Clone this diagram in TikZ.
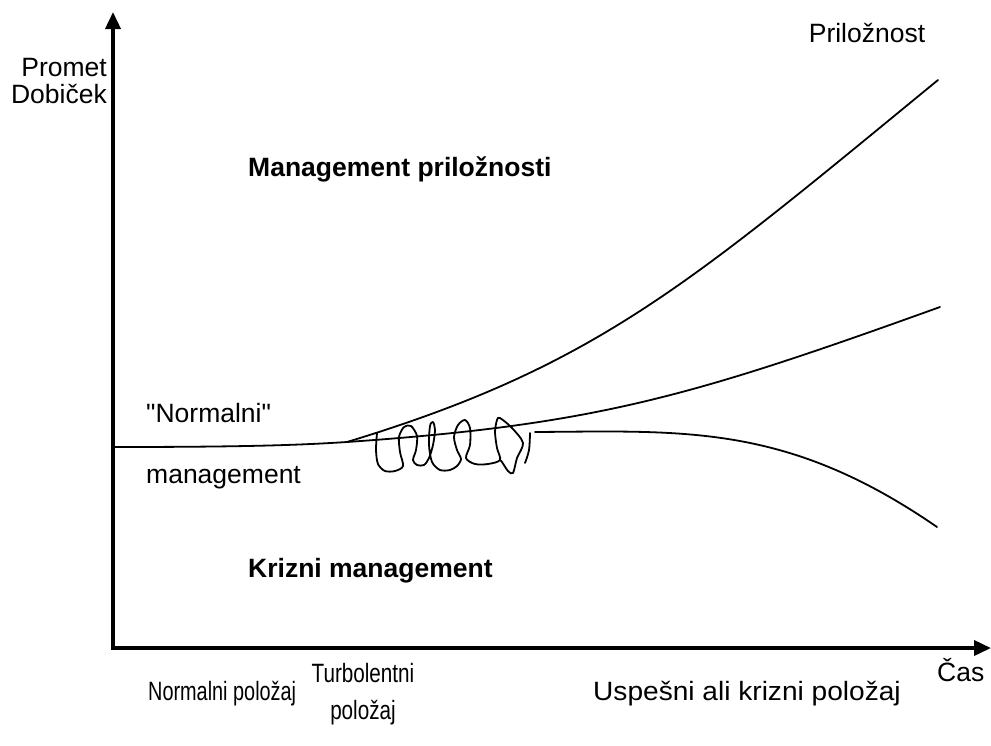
\documentclass[tikz,border=0pt]{standalone}
\usepackage{fontspec}
\setmainfont{Liberation Sans}
% plain font without the TeX text mapping, for straight quotes
\font\plainq="Liberation Sans" at 26.5pt
\usetikzlibrary{arrows.meta}
\begin{document}
\begin{tikzpicture}[x=1pt,y=-1pt,
  axis/.style={line width=3.6pt,line join=miter,
    {Triangle[length=17pt,width=15pt]}-{Triangle[length=17pt,width=15pt]}},
  curve/.style={line width=1.8pt,line cap=round,line join=round},
  lbl/.style={font=\fontsize{26.5}{30}\selectfont,inner sep=0pt},
  blbl/.style={lbl,font=\fontsize{26.5}{30}\selectfont\bfseries},
  narrow/.style={lbl,xscale=#1}]
\useasboundingbox (0,0) rectangle (991,745);

% axes
\coordinate (O) at (113,648);
\coordinate (ytip) at (113,12);
\coordinate (xtip) at (991,648);
\draw[axis] (ytip) -- (O) -- (xtip);

% normal course continuing into the middle scenario
\coordinate (start) at (113,447);
\coordinate (fork) at (347,442);
\coordinate (midend) at (940,307);
\draw[curve] (start) .. controls (250,447) and (300,445) .. (fork)
  .. controls (597,424.5) and (690,397) .. (midend);

% opportunity branch
\coordinate (oppend) at (938,80);
\draw[curve] (fork) .. controls (597,366) and (688,285) .. (oppend);

% crisis branch
\coordinate (crisstart) at (535,432);
\coordinate (crisend) at (937,527);
\draw[curve] (crisstart) .. controls (685,431) and (787,423.5) .. (crisend);

% turbulent scribble
\draw[curve] plot[smooth,tension=0.5] coordinates {
  (377,433) (376,450) (378,464) (385,471) (395,471) (403,466)
  (400,452) (399,437) (404,427) (411,426) (417,436) (416,450)
  (413,460) (417,465) (424,465) (429,458) (433,445) (435,430)
  (433,422) (430,426) (429,445) (432,462) (440,470) (450,470)
  (457,466) (461,459) (457,450) (454,437) (458,425) (465,420)
  (470,428) (470,445) (466,458) (475,464) (488,464) (500,460)
  (497,448) (495,432) (497,420) (500,418) (512,428) (523,443)
  (517,458) (513,473) (508,471) (502,462) (500,460)};
\draw[curve] plot[smooth,tension=0.6] coordinates {
  (530,433) (529,450) (525,463)};

% labels
\node[lbl,anchor=base] (opp) at (867,42) {Priložnost};
\node[lbl,anchor=base east] (promet) at (107,76) {Promet};
\node[lbl,anchor=base east] (dobicek) at (107,103) {Dobiček};
\node[blbl,anchor=base west] (mopp) at (248,176) {Management priložnosti};
\node[lbl,anchor=base west] (norm1) at (146,422) {{\plainq"Normalni"}};
\node[lbl,anchor=base west] (norm2) at (146,483) {management};
\node[blbl,anchor=base west] (kriz) at (248,577) {Krizni management};
\node[narrow=0.75,anchor=base west] (pnorm) at (148,700) {Normalni položaj};
\node[narrow=0.78,anchor=base] (pturb1) at (363,682) {Turbolentni};
\node[narrow=0.78,anchor=base] (pturb2) at (363,719) {položaj};
\node[narrow=1.06,anchor=base west] (pusp) at (593,700) {Uspešni ali krizni položaj};
\node[lbl,anchor=base west] (cas) at (937,681) {Čas};
\end{tikzpicture}
\end{document}
